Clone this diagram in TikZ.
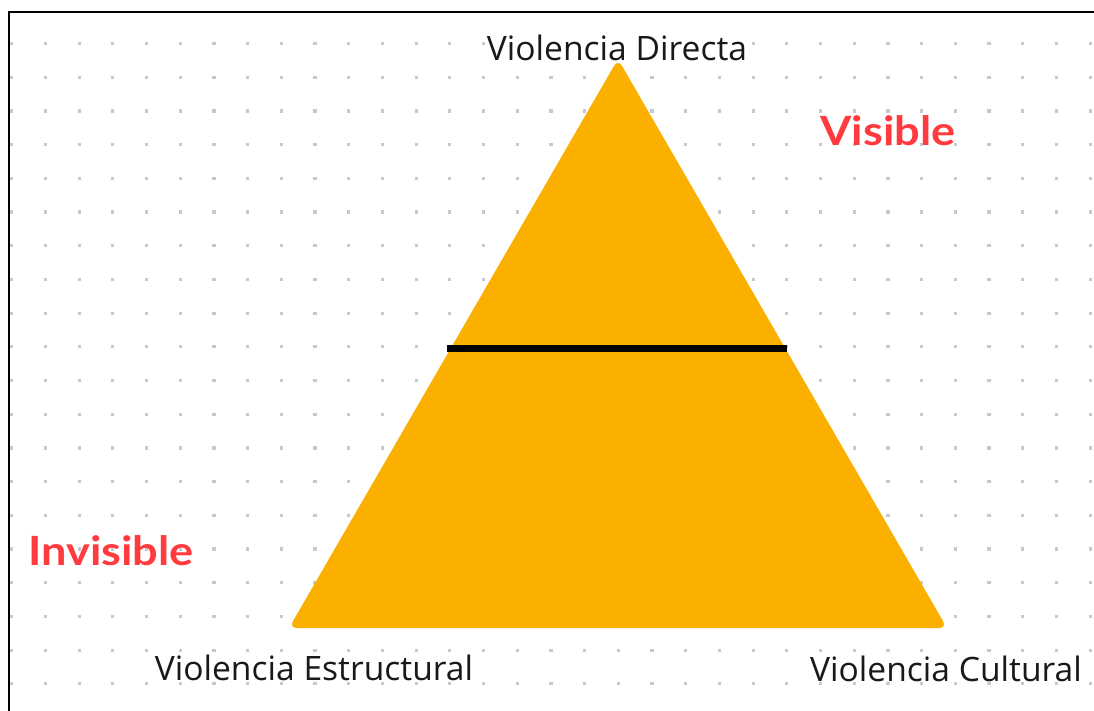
\documentclass[tikz,border=0pt]{standalone}
\usepackage{fontspec}
\setmainfont{Open Sans}
\newfontfamily\latofont{Lato}[FakeStretch=1.12]
\definecolor{tri}{HTML}{FBB000}
\definecolor{redlbl}{HTML}{FF3B3F}
\definecolor{dotc}{HTML}{C4C9D3}
\tikzset{
  lbl/.style={fill=white, inner sep=0pt, anchor=base, text=black!90,
    font=\fontsize{33.6}{40}\selectfont},
  redtxt/.style={inner sep=0pt, anchor=base, text=redlbl,
    font=\latofont\bfseries\fontsize{40.3}{46}\selectfont},
  griddot/.style={fill=dotc},
  pyramid/.style={fill=tri, rounded corners=8pt},
  divider/.style={line width=7pt, black},
  frame/.style={line width=2pt, black}
}
\begin{document}
\begin{tikzpicture}[x=1pt,y=-1pt]
\useasboundingbox (0,0) rectangle (1094,710);
\fill[white] (0,0) rectangle (1094,710);
% dot grid
\foreach \i in {0,...,32}{
  \foreach \j in {0,...,19}{
    \fill[griddot] ({11.7+33.7*\i-1.6},{43.5+33.7*\j-1.6}) rectangle ++(3.2,3.2);
  }
}
% frame
\coordinate (fbl) at (9,711);
\coordinate (ftl) at (9,12);
\coordinate (ftr) at (1095,12);
\draw[frame] (fbl) -- (ftl) -- (ftr);
% triangle
\coordinate (apex) at (618,59);
\coordinate (bl) at (289,628);
\coordinate (br) at (947,628);
\fill[pyramid] (apex) -- (bl) -- (br) -- cycle;
% divider
\coordinate (dl) at (447,348);
\coordinate (dr) at (787,348);
\draw[divider] (dl) -- (dr);
% labels
\node[lbl] (dir) at (617,60.5) {Violencia Directa};
\node[lbl] (est) at (314,680.5) {Violencia Estructural};
\node[lbl] (cul) at (946,681) {Violencia Cultural};
\node[redtxt] (vis) at (888,145) {Visible};
\node[redtxt] (invis) at (111,565) {Invisible};
\end{tikzpicture}
\end{document}
